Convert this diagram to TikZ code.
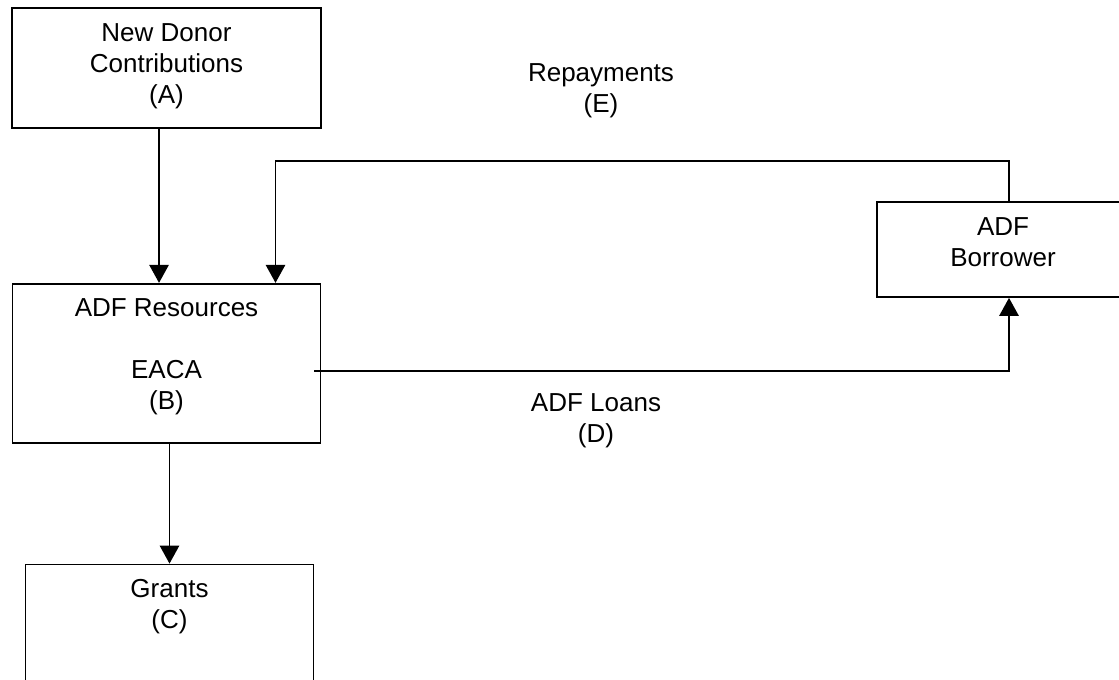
\documentclass[tikz,border=0pt]{standalone}
\usepackage{fontspec}
\setmainfont{Liberation Sans}
\usetikzlibrary{positioning,arrows.meta}

\begin{document}
\begin{tikzpicture}[x=0.75pt,y=-0.75pt,>={Triangle[length=13.5pt,width=14.5pt]},line width=1.3pt,font=\fontsize{19.5}{23.25}\selectfont,box/.style={draw,rectangle,inner sep=0pt},boxtext/.style={anchor=north,align=center,inner sep=0pt,yshift=-11.5pt},flow label/.style={align=center,inner sep=0pt}]

                \useasboundingbox (0,0) rectangle (1119,679);

                \node[box, minimum width=231.75pt, minimum height=90pt, label={[boxtext]north:New Donor\\Contributions\\(A)}] (A) at (166.5,68) {};
                \node[box, minimum width=231pt, minimum height=119.25pt, label={[boxtext]north:ADF Resources\\ \\EACA\\(B)}] (B) [below=115.5pt of A] {};
                \node[box, minimum width=216pt, minimum height=120pt, label={[boxtext]north:Grants\\(C)}] (C) [below=90pt of B, xshift=2.25pt] {};
                \node[box, minimum width=189pt, minimum height=71.25pt, label={[boxtext]north:ADF\\Borrower}] (bor) at (1003,249.5) {};

                \node[flow label] (E) at (601,91) {Repayments\\(E)};
                \node[flow label] (D) at (596,421) {ADF Loans\\(D)};

                \draw[->] ([xshift=-5.6pt]A.south) to ([xshift=-5.6pt]B.north);
                \draw[->] ([xshift=4.5pt]bor.north) -- ++(0pt,30pt) -| ([xshift=81.75pt]B.north);
                \draw[->] ([xshift=-5.25pt,yshift=-5.6pt]B.east) -| ([xshift=4.5pt]bor.south);
                \draw[->] (B.south -| C.north) to (C.north);

                ;
            \end{tikzpicture}
\end{document}
